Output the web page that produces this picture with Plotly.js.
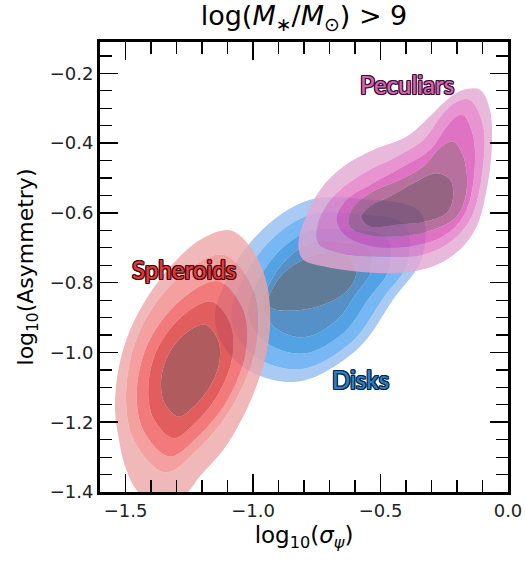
<!DOCTYPE html>
<html>
<head>
<meta charset="utf-8">
<script src="https://cdn.plot.ly/plotly-3.0.1.min.js"></script>
<style>html,body{margin:0;padding:0;background:#fff;}</style>
</head>
<body>
<div id="chart" style="width:525px;height:562px;"></div>
<script>
// ---- Density contour levels (outer L1 -> inner L5) ----
// Spheroids
const sphL1x = [-1.090,-1.012,-0.953,-0.933,-0.940,-0.973,-1.038,-1.116,-1.208,-1.27,-1.36,-1.45,-1.50,-1.528,-1.541,-1.528,-1.482,-1.404,-1.299,-1.195];
const sphL1y = [-0.650,-0.696,-0.782,-0.877,-0.973,-1.068,-1.183,-1.279,-1.355,-1.41,-1.44,-1.40,-1.33,-1.240,-1.164,-1.049,-0.935,-0.830,-0.734,-0.672];
const sphL2x = [-1.115,-0.999,-0.988,-1.071,-1.215,-1.345,-1.464,-1.498,-1.448,-1.293];
const sphL2y = [-0.720,-0.824,-0.975,-1.141,-1.277,-1.344,-1.257,-1.126,-0.945,-0.786];
const sphL3x = [-1.136,-1.038,-1.029,-1.099,-1.219,-1.327,-1.427,-1.456,-1.414,-1.284];
const sphL3y = [-0.796,-0.880,-1.001,-1.135,-1.244,-1.298,-1.228,-1.123,-0.977,-0.850];
const sphL4x = [-1.163,-1.088,-1.081,-1.135,-1.228,-1.312,-1.389,-1.411,-1.379,-1.278];
const sphL4y = [-0.854,-0.920,-1.014,-1.118,-1.203,-1.246,-1.191,-1.109,-0.996,-0.896];
const sphL5x = [-1.189,-1.137,-1.132,-1.169,-1.234,-1.292,-1.345,-1.361,-1.338,-1.269];
const sphL5y = [-0.920,-0.964,-1.028,-1.098,-1.156,-1.184,-1.147,-1.092,-1.015,-0.948];

// Disks
const dskL1x = [-0.776,-0.933,-1.071,-1.149,-1.051,-0.829,-0.593,-0.451,-0.337,-0.345,-0.580];
const dskL1y = [-0.562,-0.628,-0.748,-0.912,-1.035,-1.084,-0.992,-0.849,-0.728,-0.597,-0.559];
const dskL2x = [-0.769,-0.903,-1.020,-1.086,-1.003,-0.813,-0.613,-0.493,-0.396,-0.403,-0.603];
const dskL2y = [-0.604,-0.660,-0.763,-0.902,-1.006,-1.048,-0.970,-0.848,-0.746,-0.634,-0.602];
const dskL3x = [-0.766,-0.873,-0.966,-1.020,-0.953,-0.801,-0.641,-0.545,-0.467,-0.473,-0.633];
const dskL3y = [-0.649,-0.693,-0.775,-0.887,-0.970,-1.003,-0.941,-0.844,-0.762,-0.672,-0.647];
const dskL4x = [-0.767,-0.849,-0.920,-0.961,-0.910,-0.794,-0.671,-0.598,-0.539,-0.543,-0.665];
const dskL4y = [-0.685,-0.719,-0.782,-0.866,-0.931,-0.956,-0.908,-0.834,-0.771,-0.703,-0.683];
const dskL5x = [-0.941,-0.894,-0.804,-0.698,-0.620,-0.596,-0.639,-0.737,-0.847,-0.925];
const dskL5y = [-0.857,-0.783,-0.734,-0.711,-0.728,-0.777,-0.829,-0.866,-0.880,-0.874];

// Peculiars
const pecL1x = [-0.110,-0.071,-0.064,-0.084,-0.123,-0.188,-0.293,-0.424,-0.593,-0.724,-0.803,-0.822,-0.803,-0.737,-0.646,-0.528,-0.397,-0.306,-0.240,-0.175];
const pecL1y = [-0.247,-0.304,-0.419,-0.534,-0.639,-0.705,-0.753,-0.772,-0.768,-0.753,-0.734,-0.696,-0.629,-0.534,-0.467,-0.419,-0.381,-0.323,-0.276,-0.247];
const pecL2x = [-0.149,-0.097,-0.103,-0.142,-0.215,-0.332,-0.489,-0.659,-0.744,-0.744,-0.685,-0.567,-0.436,-0.332,-0.254,-0.201];
const pecL2y = [-0.276,-0.352,-0.495,-0.610,-0.677,-0.720,-0.725,-0.715,-0.686,-0.629,-0.553,-0.486,-0.438,-0.390,-0.314,-0.281];
const pecL3x = [-0.175,-0.136,-0.136,-0.175,-0.254,-0.384,-0.528,-0.633,-0.672,-0.633,-0.528,-0.411,-0.306,-0.240,-0.201];
const pecL3y = [-0.319,-0.381,-0.514,-0.610,-0.667,-0.696,-0.696,-0.667,-0.619,-0.562,-0.514,-0.467,-0.419,-0.352,-0.323];
const pecL4x = [-0.215,-0.175,-0.162,-0.201,-0.293,-0.424,-0.554,-0.620,-0.613,-0.541,-0.424,-0.332,-0.267];
const pecL4y = [-0.395,-0.438,-0.534,-0.610,-0.648,-0.667,-0.662,-0.639,-0.591,-0.543,-0.505,-0.467,-0.414];
const pecL5x = [-0.280,-0.227,-0.215,-0.240,-0.319,-0.436,-0.541,-0.574,-0.541,-0.463,-0.371];
const pecL5y = [-0.486,-0.505,-0.553,-0.600,-0.624,-0.634,-0.639,-0.610,-0.581,-0.553,-0.514];

// Band colours (outer -> inner) per class
const sphColors = ['rgba(236,166,166,0.8)','rgba(241,136,136,0.8)','rgba(239,89,89,0.8)','rgba(219,53,53,0.8)','rgba(156,51,54,0.8)'];
const dskColors = ['rgba(148,189,239,0.8)','rgba(85,166,241,0.8)','rgba(40,140,221,0.8)','rgba(43,118,184,0.8)','rgba(55,90,124,0.8)'];
const pecColors = ['rgba(227,168,211,0.8)','rgba(225,121,196,0.8)','rgba(216,79,180,0.8)','rgba(166,78,135,0.8)','rgba(121,61,99,0.8)'];

// Labels
const labelText = ['Spheroids','Disks','Peculiars'];
const labelX = [-1.271,-0.580,-0.397];
const labelY = [-0.763,-1.078,-0.233];
const labelFill = ['#e8383d','#2c7fc4','#d465b4'];
const labelEdge = ['#3d0c0c','#0b2540','#3b1030'];

// ---- helpers to build filled bands (outer ring with inner hole) ----
function signedArea(xs, ys){
  let a = 0;
  for (let i = 0; i < xs.length; i++){
    const j = (i + 1) % xs.length;
    a += xs[i]*ys[j] - xs[j]*ys[i];
  }
  return a/2;
}
function ring(xs, ys, ccw){
  let px = xs.slice(), py = ys.slice();
  const a = signedArea(px, py);
  if ((a > 0) !== ccw){ px.reverse(); py.reverse(); }
  px.push(px[0]); py.push(py[0]);
  return [px, py];
}
function bandTraces(levels, colors){
  const out = [];
  for (let k = 0; k < levels.length; k++){
    const [ox, oy] = ring(levels[k][0], levels[k][1], true);
    let x = ox, y = oy;
    if (k + 1 < levels.length){
      const [ix, iy] = ring(levels[k+1][0], levels[k+1][1], false);
      x = ox.concat([null], ix);
      y = oy.concat([null], iy);
    }
    out.push({
      type:'scatter', mode:'lines', x:x, y:y, fill:'toself',
      fillcolor: colors[k], line:{width:0, shape:'spline', smoothing:1},
      hoverinfo:'skip', showlegend:false
    });
  }
  return out;
}

const traces = [].concat(
  bandTraces([[dskL1x,dskL1y],[dskL2x,dskL2y],[dskL3x,dskL3y],[dskL4x,dskL4y],[dskL5x,dskL5y]], dskColors),
  bandTraces([[sphL1x,sphL1y],[sphL2x,sphL2y],[sphL3x,sphL3y],[sphL4x,sphL4y],[sphL5x,sphL5y]], sphColors),
  bandTraces([[pecL1x,pecL1y],[pecL2x,pecL2y],[pecL3x,pecL3y],[pecL4x,pecL4y],[pecL5x,pecL5y]], pecColors)
);

function outline(c){
  return `-1px -1px 0 ${c}, 1px -1px 0 ${c}, -1px 1px 0 ${c}, 1px 1px 0 ${c}, 0 -1px 0 ${c}, 0 1px 0 ${c}, -1px 0 0 ${c}, 1px 0 0 ${c}`;
}
const annotations = labelText.map((t, i) => ({
  x: labelX[i], y: labelY[i], xref:'x', yref:'y', text: t, showarrow:false,
  font:{family:'Lato, "Open Sans", sans-serif', size:24, color:labelFill[i], weight:500, shadow: outline(labelEdge[i])}
}));

const axisCommon = {
  showgrid:false, zeroline:false, showline:true, linecolor:'#000', linewidth:3,
  mirror:'allticks', ticks:'inside', ticklen:18, tickwidth:1.5, tickcolor:'#000',
  tickfont:{family:'DejaVu Sans, sans-serif', size:18, color:'#222'}, tickformat:'.1f'
};

const layout = {
  width:525, height:562,
  margin:{l:100, r:17, t:42, b:70},
  paper_bgcolor:'#fff', plot_bgcolor:'#fff',
  title:{text:'log(<i>M</i><sub>∗</sub>/<i>M</i><sub>⊙</sub>) > 9', font:{family:'DejaVu Sans, sans-serif', size:27, color:'#000'},
         x:0.5, xref:'paper', y:0.972, yref:'container', yanchor:'middle'},
  xaxis: Object.assign({}, axisCommon, {
    range:[-1.6, 0], dtick:0.5, tick0:0,
    minor:{dtick:0.1, ticklen:12, tickwidth:1.2, ticks:'inside', tickcolor:'#000'},
    title:{text:'log<sub>10</sub>(<i>σ</i><sub><i>ψ</i></sub>)', font:{family:'DejaVu Sans, sans-serif', size:23, color:'#000'}, standoff:8}
  }),
  yaxis: Object.assign({}, axisCommon, {
    range:[-1.4, -0.11], dtick:0.2, tick0:0,
    minor:{dtick:0.05, ticklen:12, tickwidth:1.2, ticks:'inside', tickcolor:'#000'},
    title:{text:'log<sub>10</sub>(Asymmetry)', font:{family:'DejaVu Sans, sans-serif', size:22, color:'#000'}, standoff:10}
  }),
  annotations: annotations
};

Plotly.newPlot('chart', traces, layout, {displayModeBar:false, staticPlot:true});
</script>
</body>
</html>
